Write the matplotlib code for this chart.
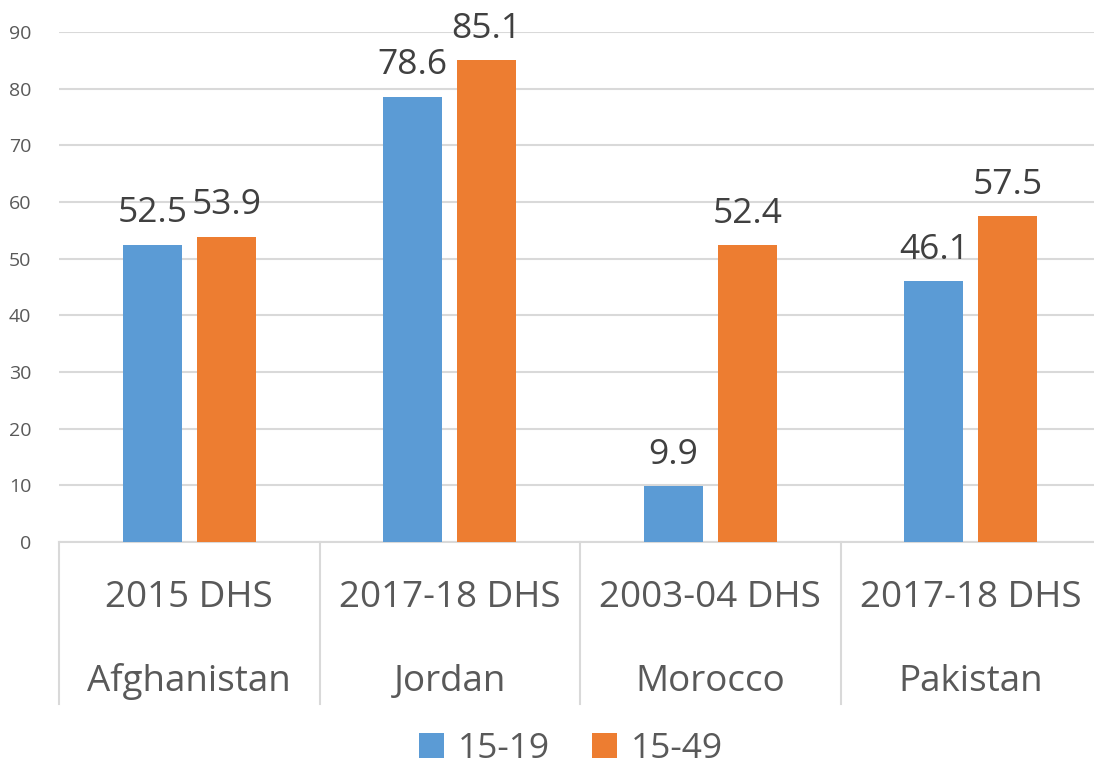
import matplotlib.pyplot as plt
import numpy as np

countries = ["Afghanistan", "Jordan", "Morocco", "Pakistan"]
surveys = ["2015 DHS", "2017-18 DHS", "2003-04 DHS", "2017-18 DHS"]
age_15_19 = [52.5, 78.6, 9.9, 46.1]
age_15_49 = [53.9, 85.1, 52.4, 57.5]
series_names = ["15-19", "15-49"]
yticks = list(range(0, 100, 10))

plt.rcParams['font.family'] = ['Open Sans', 'DejaVu Sans']
grey = '#595959'
line = '#d9d9d9'
blue = '#5b9bd5'
orange = '#ed7d31'

fig = plt.figure(figsize=(10.94, 7.66), dpi=100)
ax = fig.add_axes([59/1094, 224/766, 1042/1094, 510/766])

x = np.arange(len(countries))
w = 0.226
off = 0.142
b1 = ax.bar(x - off, age_15_19, w, color=blue, label=series_names[0], zorder=3)
b2 = ax.bar(x + off, age_15_49, w, color=orange, label=series_names[1], zorder=3)

for bars, vals in ((b1, age_15_19), (b2, age_15_49)):
	for rect, v in zip(bars, vals):
		ax.annotate(f"{v:.1f}", (rect.get_x() + rect.get_width()/2, v),
			xytext=(0, 16), textcoords='offset points', ha='center', va='baseline',
			fontsize=25.5, color='#404040')

ax.set_xlim(-0.5, len(countries) - 0.5)
ax.set_ylim(0, 90)
ax.set_yticks(yticks)
ax.tick_params(axis='y', length=0, labelsize=14, labelcolor=grey, pad=20)
ax.set_xticks([])
ax.yaxis.grid(True, color=line, linewidth=1.5, zorder=0)
for s in ('top', 'right', 'left'):
	ax.spines[s].set_visible(False)
ax.spines['bottom'].set_color(line)
ax.spines['bottom'].set_linewidth(1.5)

# two-level category labels with separators
trans = ax.get_xaxis_transform()
sep_len = 162 / 510
for i in range(len(countries) + 1):
	ax.plot([i - 0.5, i - 0.5], [0, -sep_len], transform=trans, color=line,
		linewidth=1.5, clip_on=False)
for i, (c, s) in enumerate(zip(countries, surveys)):
	ax.text(i, -56/510, s, transform=trans, ha='center', va='center',
		fontsize=26.5, color=grey)
	ax.text(i, -140/510, c, transform=trans, ha='center', va='center',
		fontsize=26.5, color=grey)

fig.legend(handles=[b1, b2], labels=series_names, loc='center',
	bbox_to_anchor=(0.522, 17/766), ncol=2, frameon=False, fontsize=25.5,
	labelcolor=grey, handlelength=0.7, handleheight=0.7, handletextpad=0.4,
	columnspacing=1.2)

fig.savefig('out.png', dpi=100)
